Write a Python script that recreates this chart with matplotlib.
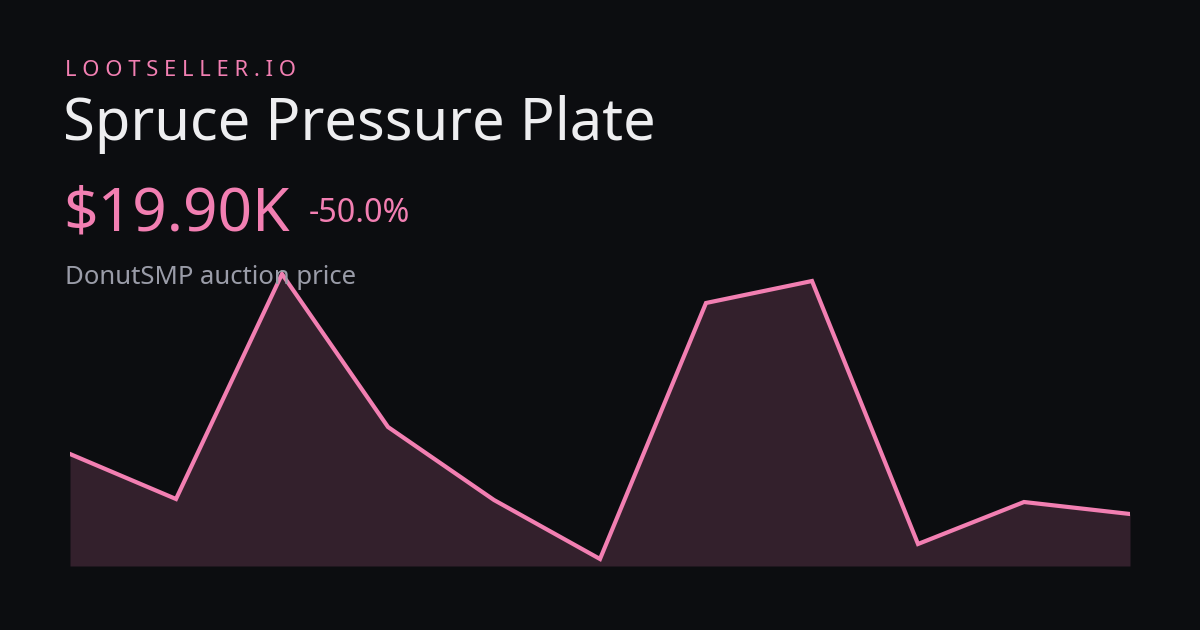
import matplotlib
matplotlib.use("Agg")
import matplotlib.pyplot as plt

idx = list(range(11))
values = [112, 67, 292, 139, 66, 7, 263, 285, 22, 64, 52]

bg = "#0c0d10"
pink = "#f27fb2"
fig = plt.figure(figsize=(12, 6.3), dpi=100, facecolor=bg)
ax = fig.add_axes([70/1200, 64/630, 1060/1200, 300/630])
ax.set_facecolor(bg)
ax.fill_between(idx, values, 0, color="#33202c", lw=0)
ax.plot(idx, values, color=pink, lw=3, solid_joinstyle="miter")
ax.set_xlim(0, 10)
ax.set_ylim(0, 300)
ax.axis("off")

F = "Noto Sans"
fig.text(65/1200, 1-71/630, "L O O T S E L L E R . I O", color=pink, fontsize=15.8, family=F, va="center")
fig.text(63/1200, 1-125/630, "Spruce Pressure Plate", color="#eeeef0", fontsize=41.7, family=F, va="center")
fig.text(63/1200, 1-215/630, "$19.90K", color=pink, fontsize=43.5, family=F, va="center")
fig.text(309/1200, 1-213/630, "-50.0%", color=pink, fontsize=23.2, family=F, va="center")
fig.text(65/1200, 1-278/630, "DonutSMP auction price", color="#9a9ca8", fontsize=18.5, family=F, va="center")
fig.savefig("out.png", facecolor=bg)
